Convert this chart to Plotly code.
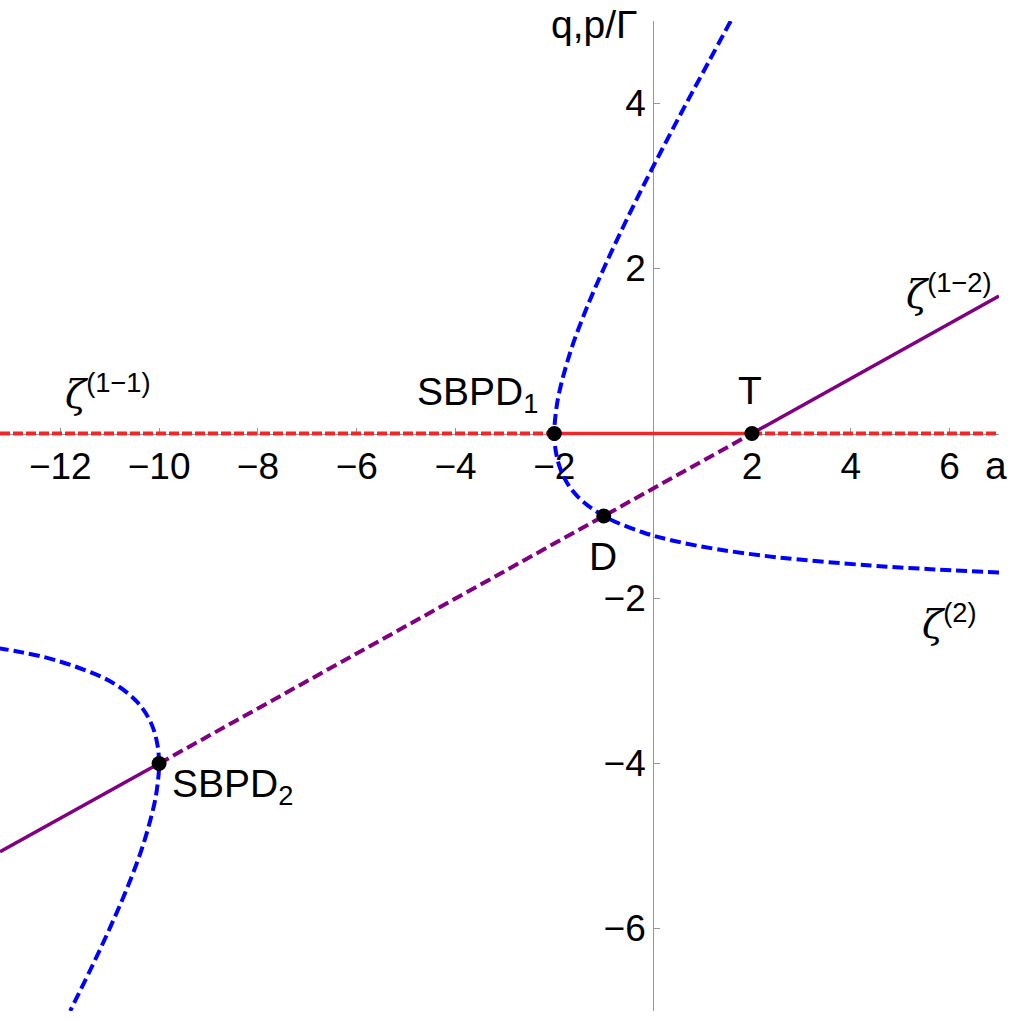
import plotly.graph_objects as go

# Axis ranges (a horizontally, q,p/Γ vertically)
A_RANGE = [-13.22, 7.0]
Q_RANGE = [-7.0, 5.0]

# zeta^(1-1) / zeta^(1-2) branch along q = 0: dashed-solid-dashed
red_dash_left_a = [-13.22, -2.0]
red_solid_a = [-2.0, 2.0]
red_dash_right_a = [2.0, 7.0]
red_q = [0.0, 0.0]

# Straight purple branch: solid right of T, dashed between SBPD2 and T, solid left of SBPD2
purple_right_a = [2.0, 7.0]
purple_right_q = [0.0, 1.667]
purple_mid_a = [-10.0, -1.0, 2.0]
purple_mid_q = [-4.0, -1.0, 0.0]
purple_left_a = [-13.22, -10.0]
purple_left_q = [-5.07, -4.0]

# zeta^(2) curve, upper branch
blue_up_q = [5.0, 4.5, 4.0, 3.5, 3.0, 2.5, 2.0, 1.5, 1.0, 0.5, 0.25, 0.0,
             -0.25, -0.5, -0.75, -1.0, -1.2, -1.3, -1.4, -1.5, -1.6, -1.65, -1.685]
blue_up_a = [1.57, 1.12, 0.67, 0.23, -0.2, -0.61, -1.0, -1.36, -1.67, -1.9, -1.97, -2.0,
             -1.96, -1.83, -1.55, -1.0, -0.2, 0.41, 1.27, 2.5, 4.4, 5.78, 7.0]

# zeta^(2) curve, lower-left branch
blue_low_q = [-2.6, -2.65, -2.75, -3.0, -3.25, -3.5, -3.75, -4.0,
              -4.25, -4.5, -5.0, -5.5, -6.0, -6.5, -7.0]
blue_low_a = [-13.27, -12.8, -12.08, -11.0, -10.45, -10.17, -10.04, -10.0,
              -10.03, -10.1, -10.33, -10.64, -11.0, -11.39, -11.8]

# Special points: SBPD1, T, D, SBPD2
pt_a = [-2.0, 2.0, -1.0, -10.0]
pt_q = [0.0, 0.0, -1.0, -4.0]

x_ticks = [-12, -10, -8, -6, -4, -2, 2, 4, 6, 7]
x_tick_text = ["−12", "−10", "−8", "−6", "−4", "−2", "2", "4", "6", ""]
y_ticks = [-6, -4, -2, 2, 4, 5]
y_tick_text = ["−6", "−4", "−2", "2", "4", ""]

RED = "rgb(236,40,40)"
PURPLE = "rgb(128,0,128)"
BLUE = "rgb(0,0,255)"
LW_SOLID = 3.5
LW_DASH = 4

fig = go.Figure()


def add_line(x, y, color, dash, shape="linear"):
    width = LW_SOLID if dash == "solid" else LW_DASH
    fig.add_trace(go.Scatter(x=x, y=y, mode="lines", showlegend=False, hoverinfo="skip",
                             line=dict(color=color, width=width, dash=dash, shape=shape)))


add_line(red_dash_left_a, red_q, RED, "10px,3px")
add_line(red_solid_a, red_q, RED, "solid")
add_line(red_dash_right_a, red_q, RED, "10px,3px")

add_line(purple_right_a, purple_right_q, PURPLE, "solid")
add_line(purple_mid_a, purple_mid_q, PURPLE, "11px,5px")
add_line(purple_left_a, purple_left_q, PURPLE, "solid")

add_line(blue_up_a, blue_up_q, BLUE, "11px,5px", "spline")
add_line(blue_low_a, blue_low_q, BLUE, "11px,5px", "spline")

fig.add_trace(go.Scatter(x=pt_a, y=pt_q, mode="markers", showlegend=False, hoverinfo="skip",
                         marker=dict(color="black", size=15)))

SANS = "Liberation Sans, Arial, sans-serif"
LABEL_FONT = dict(family=SANS, size=39, color="black")


def zeta(sup):
    return ('<span style="font-family:DejaVu Serif"><i>ζ</i></span>'
            '<sup>' + sup + '</sup>')


labels = [
    (-11.95, 0.5, zeta("(1−1)"), "left"),
    (5.08, 1.72, zeta("(1−2)"), "left"),
    (5.40, -2.28, zeta("(2)"), "left"),
    (-3.56, 0.47, "SBPD<sub>1</sub>", "center"),
    (1.96, 0.52, "T", "center"),
    (-1.01, -1.49, "D", "center"),
    (-9.78, -4.28, "SBPD<sub>2</sub>", "left"),
    (6.93, -0.39, "a", "center"),
    (-0.27, 4.96, "q,p/Γ", "right"),
]
for ax_, ay_, txt, xa in labels:
    fig.add_annotation(x=ax_, y=ay_, xref="x", yref="y", text=txt, showarrow=False,
                       xanchor=xa, yanchor="middle", font=LABEL_FONT)

AXIS_GRAY = "rgb(150,150,150)"
TICK_FONT = dict(family=SANS, size=37, color="black")

fig.update_layout(
    width=1014, height=1022,
    margin=dict(l=0, r=15, t=21, b=11),
    paper_bgcolor="white", plot_bgcolor="white",
    xaxis=dict(range=A_RANGE, anchor="free", position=7.0 / 12.0, layer="below traces",
               showgrid=False, zeroline=False, showline=True, linecolor=AXIS_GRAY, linewidth=1,
               ticks="inside", ticklen=6, tickcolor=AXIS_GRAY, tickwidth=1,
               tickmode="array", tickvals=x_ticks, ticktext=x_tick_text,
               tickfont=TICK_FONT, ticklabelstandoff=0),
    yaxis=dict(range=Q_RANGE, anchor="free", position=13.22 / 20.22, side="left",
               layer="below traces",
               showgrid=False, zeroline=False, showline=True, linecolor=AXIS_GRAY, linewidth=1,
               ticks="inside", ticklen=6, tickcolor=AXIS_GRAY, tickwidth=1,
               tickmode="array", tickvals=y_ticks, ticktext=y_tick_text,
               tickfont=TICK_FONT, ticklabelstandoff=0),
)

fig.write_html("out.html")
